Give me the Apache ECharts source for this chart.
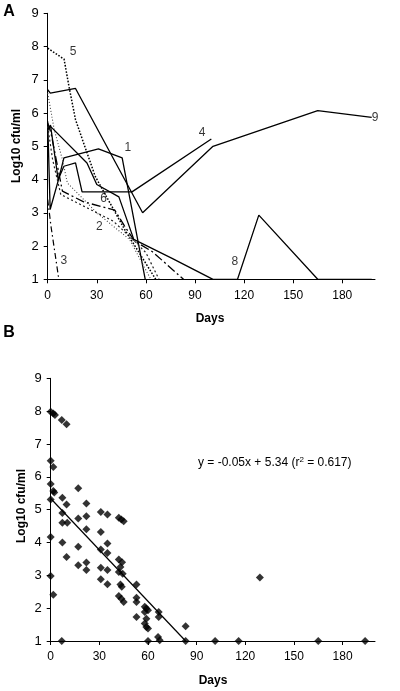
<!DOCTYPE html>
<html>
<head>
<meta charset="utf-8">
<script src="https://cdn.jsdelivr.net/npm/echarts@6/dist/echarts.min.js"></script>
<style>html,body{margin:0;padding:0;background:#fff;}#c{width:400px;height:691px;}</style>
</head>
<body>
<div id="c"></div>
<script>
// ---- Panel A: individual patient curves [day, log10 cfu/ml] ----
const line1 = [[0,5.75],[1.5,3.1],[6.6,4.0],[9.9,4.65],[31,4.92],[45.5,4.65],[59.6,1.0]];
const line2 = [[0,5.6],[3,4.6],[8,3.55],[22,3.2],[40,2.75],[52,2.2],[60,1.8],[68,1.0]];
const line3 = [[0,3.4],[2,2.6],[6.8,1.0]];
const line4 = [[0,5.5],[1.7,5.64],[6.4,4.0],[9.9,4.4],[17,4.5],[21,3.63],[51.5,3.63],[100,5.22]];
const line5 = [[0,7.95],[10,7.62],[13,6.8],[17,5.8],[29,4.1],[47,2.5],[66,1.0]];
const line6 = [[0,5.7],[2,5.4],[9,3.65],[22,3.33],[41,3.08],[47,2.6],[53,2.15],[64,1.83],[83,1.0]];
const line7 = [[0,6.6],[4,5.5],[9,4.6],[12,3.9],[30,3.0],[50,2.2],[63,1.0]];
const line8 = [[0,5.5],[1.7,5.6],[24,4.5],[30,3.85],[43.5,3.48],[52.6,2.2],[76,1.63],[101,1.0],[116,1.0],[129,2.93],[165,1.0],[198,1.0]];
const line9 = [[0,6.7],[1.6,6.6],[17,6.74],[58,3.0],[101,5.0],[165,6.07],[198,5.87]];
const lineLabels = [
  {name:'1', value:[49,4.95]}, {name:'2', value:[31.6,2.57]}, {name:'3', value:[9.8,1.55]},
  {name:'4', value:[94.3,5.4]}, {name:'5', value:[15.5,7.84]}, {name:'6', value:[34.2,3.42]},
  {name:'8', value:[114.4,1.52]}, {name:'9', value:[200,5.85]}
];

// ---- Panel B: pooled measurements ----
const pooled = [
  [0,7.98],[1.6,7.93],[2.6,7.88],[6.8,7.73],[9.8,7.6],
  [0,6.49],[1.6,6.3],
  [0,5.78],[1.6,5.57],[2.2,5.52],[0,5.31],[7.2,5.36],[9.8,5.16],[17,5.65],[22,5.19],
  [7.2,4.9],[17,4.73],[22,4.8],[30.9,4.93],[35,4.85],[42,4.75],[43.6,4.7],[45,4.65],
  [7.2,4.6],[10.2,4.6],[22,4.4],[30.9,4.32],[0,4.17],[7.2,4.0],[17,3.87],[35,3.97],
  [30.9,3.79],[35,3.68],[9.8,3.56],[42,3.48],
  [17,3.31],[22,3.39],[22,3.16],[30.9,3.23],[35,3.16],[30.9,2.88],[35,2.73],
  [44,3.4],[43,3.25],[44.4,3.05],[42,3.1],[43,2.72],[43.8,2.65],
  [42,2.37],[43.6,2.29],[45,2.19],
  [52.9,2.72],[52.9,2.32],[52.9,2.19],[52.9,1.73],
  [58,2.04],[59,1.99],[60,1.94],[58,1.88],[59,1.68],[59,1.43],[60,1.38],[58,1.53],
  [66.6,1.88],[66.6,1.73],[66.2,1.12],[67.2,1.02],[60,1.0],
  [0,2.98],[1.6,2.41],[6.8,1.0],
  [83.2,1.45],[83.2,1.0],[101.4,1.0],[115.9,1.0],[129,2.93],[165,1.0],[193.9,1.0]
];
const regression = [[0,5.34],[83.2,1.0]];

const xTicks = [0,30,60,90,120,150,180];
const yTicks = [1,2,3,4,5,6,7,8,9];

const FONT = 'Liberation Sans, Arial, sans-serif';
const black = '#000';

function xAxisCfg(gridIndex){
  return {
    gridIndex, type:'value', min:0, max:200, interval:30,
    axisLine:{show:true, onZero:false, lineStyle:{color:black, width:1}},
    axisTick:{show:true, length:4, inside:false, customValues:xTicks, lineStyle:{color:black}},
    axisLabel:{show:true, customValues:xTicks, margin:10, color:black, fontSize:12, fontFamily:FONT},
    splitLine:{show:false}
  };
}
function yAxisCfg(gridIndex){
  return {
    gridIndex, type:'value', min:1, max:9, interval:1,
    axisLine:{show:true, onZero:false, lineStyle:{color:black, width:1}},
    axisTick:{show:true, length:4, inside:false, lineStyle:{color:black}},
    axisLabel:{show:true, margin:9, color:black, fontSize:13, fontFamily:FONT},
    splitLine:{show:false}
  };
}
function lineSeries(data, dash, color, width){
  return {
    type:'line', xAxisIndex:0, yAxisIndex:0, data, symbol:'none', silent:true,
    lineStyle:{color:color||black, width:width||1.3, type:dash||'solid'},
    animation:false
  };
}

const chart = echarts.init(document.getElementById('c'), null, {renderer:'canvas'});
chart.setOption({
  backgroundColor:'#fff',
  animation:false,
  grid:[
    {left:47.7, top:13.3, width:327.3, height:266},
    {left:50.7, top:378.3, width:324.3, height:262.7}
  ],
  xAxis:[xAxisCfg(0), xAxisCfg(1)],
  yAxis:[yAxisCfg(0), yAxisCfg(1)],
  series:[
    lineSeries(line1, 'solid'),
    lineSeries(line2, [2,2.5], '#222', 1.2),
    lineSeries(line3, [6,3,1.5,3], black, 1.2),
    lineSeries(line4, 'solid'),
    lineSeries(line5, [1.6,1.6], black, 1.5),
    lineSeries(line6, [9,3,2,3], black, 1.3),
    lineSeries(line7, [1,2], '#444', 1.1),
    lineSeries(line8, 'solid'),
    lineSeries(line9, 'solid'),
    {
      type:'scatter', xAxisIndex:0, yAxisIndex:0, data:lineLabels, symbolSize:1, silent:true,
      itemStyle:{color:'rgba(0,0,0,0)'},
      label:{show:true, position:'inside', formatter:'{b}', color:black, fontSize:12, fontFamily:FONT},
      labelLayout:{hideOverlap:false},
      clip:false
    },
    {
      type:'scatter', xAxisIndex:1, yAxisIndex:1, data:pooled, symbol:'diamond', symbolSize:8,
      itemStyle:{color:black}, silent:true
    },
    {
      type:'line', xAxisIndex:1, yAxisIndex:1, data:regression, symbol:'none', silent:true,
      lineStyle:{color:black, width:1.2}
    }
  ],
  graphic:[
    {type:'text', x:9, y:12, style:{text:'A', font:'bold 16px '+FONT, fill:black, align:'center', verticalAlign:'middle'}},
    {type:'text', x:9, y:333, style:{text:'B', font:'bold 16px '+FONT, fill:black, align:'center', verticalAlign:'middle'}},
    {type:'text', x:17, y:146, rotation:Math.PI/2, style:{text:'Log10 cfu/ml', font:'bold 12px '+FONT, fill:black, align:'center', verticalAlign:'middle'}},
    {type:'text', x:22, y:506, rotation:Math.PI/2, style:{text:'Log10 cfu/ml', font:'bold 12px '+FONT, fill:black, align:'center', verticalAlign:'middle'}},
    {type:'text', x:210, y:319, style:{text:'Days', font:'bold 12px '+FONT, fill:black, align:'center', verticalAlign:'middle'}},
    {type:'text', x:213, y:681, style:{text:'Days', font:'bold 12px '+FONT, fill:black, align:'center', verticalAlign:'middle'}},
    {type:'text', x:198, y:463, style:{
      text:'{a|y = -0.05x + 5.34 (r}{s|2}{a| = 0.617)}',
      align:'left', verticalAlign:'middle', fill:black,
      rich:{
        a:{fontSize:12, fontFamily:FONT, fill:black},
        s:{fontSize:8, fontFamily:FONT, fill:black, verticalAlign:'top', padding:[0,0,6,0]}
      }
    }}
  ]
});
</script>
</body>
</html>
